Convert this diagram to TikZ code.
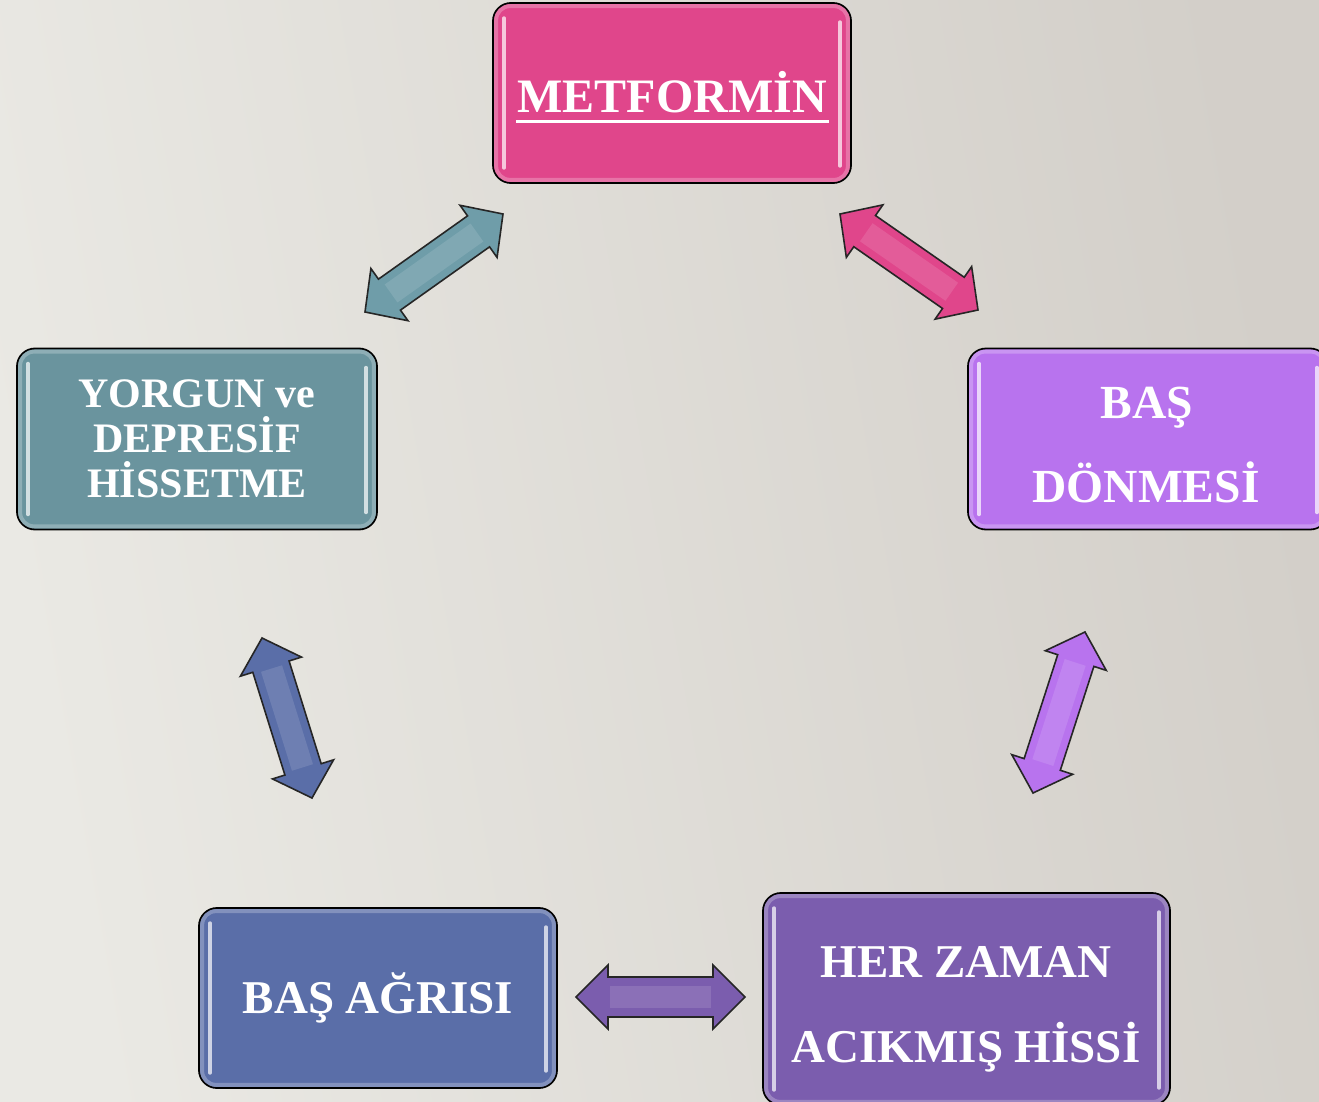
\documentclass[tikz,border=0pt]{standalone}
\usepackage{fontspec}
\setmainfont{Liberation Serif}
\usetikzlibrary{calc}
\definecolor{bgL}{HTML}{EAE9E4}
\definecolor{bgR}{HTML}{D3CFC9}
\definecolor{cPink}{HTML}{E0468B}
\definecolor{cTeal}{HTML}{6A949E}
\definecolor{cLilac}{HTML}{B873EE}
\definecolor{cBlue}{HTML}{5A6EA8}
\definecolor{cPurple}{HTML}{7B5DAE}
\definecolor{aTeal}{HTML}{6F9DA9}
\tikzset{
  box/.style={draw=black, line width=1.8pt, rounded corners=18pt, inner sep=0pt},
  lbl/.style={text=white, anchor=base, inner sep=0pt},
  arr/.style={draw=black!85, line width=1.6pt, line join=miter}
}
\newcommand\glossbox[6]{%
  \node[box, fill=#6, minimum width=#4pt, minimum height=#5pt] (#1) at (#2,#3) {};
  \draw[#6!55!white, line width=4pt, rounded corners=14pt, opacity=0.55]
    ($(#1.north west)+(4,4)$) rectangle ($(#1.south east)+(-4,-4)$);
  \draw[white!70!#6, line width=3.6pt, line cap=round]
    ($(#1.north west)+(12,16)$) -- ($(#1.south west)+(12,-16)$);
  \draw[white!70!#6, line width=3.6pt, line cap=round]
    ($(#1.north east)+(-12,20)$) -- ($(#1.south east)+(-12,-18)$);
}
% #1,#2 tips, #3 colour, #4 shaft half width, #5 head half width, #6 head length
\newcommand\dblarr[6]{%
  \coordinate (hA) at ($(#1)!#6pt!(#2)$);
  \coordinate (hB) at ($(#2)!#6pt!(#1)$);
  \draw[arr, fill=#3] (#1) -- ($(hA)!#5pt!90:(#2)$) -- ($(hA)!#4pt!90:(#2)$)
    -- ($(hB)!#4pt!-90:(#1)$) -- ($(hB)!#5pt!-90:(#1)$) -- (#2)
    -- ($(hB)!#5pt!90:(#1)$) -- ($(hB)!#4pt!90:(#1)$)
    -- ($(hA)!#4pt!-90:(#2)$) -- ($(hA)!#5pt!-90:(#2)$) -- cycle;
  \draw[white!35!#3, line width=22pt, opacity=0.35]
    ($(hA)!2pt!(hB)$) -- ($(hB)!2pt!(hA)$);
}
\begin{document}
\begin{tikzpicture}[x=1pt,y=-1pt]
\useasboundingbox (0,0) rectangle (1319,1102);
\shade[left color=bgL, right color=bgR, shading angle=100] (0,0) rectangle (1319,1102);
\clip (0,0) rectangle (1319,1102);

% boxes
\glossbox{met}{672}{93}{358}{180}{cPink}
\glossbox{yor}{197}{439}{360}{181}{cTeal}
\glossbox{bd}{1148}{439}{360}{181}{cLilac}
\glossbox{ba}{378}{998}{358}{180}{cBlue}
\glossbox{hz}{966.5}{999}{407}{212}{cPurple}

% texts
\begin{scope}[every node/.append style={lbl}]
\node[font=\bfseries\fontsize{48}{48}\selectfont] (tmet) at (672,113) {METFORMİN};
\node[font=\bfseries\fontsize{42}{42}\selectfont] (ty1) at (197,407) {YORGUN ve};
\node[font=\bfseries\fontsize{42}{42}\selectfont] (ty2) at (197,452) {DEPRESİF};
\node[font=\bfseries\fontsize{42}{42}\selectfont] (ty3) at (197,497) {HİSSETME};
\node[font=\bfseries\fontsize{47.5}{48}\selectfont] (tb1) at (1147,418) {BAŞ};
\node[font=\bfseries\fontsize{47.5}{48}\selectfont] (tb2) at (1146,502) {DÖNMESİ};
\node[font=\bfseries\fontsize{47}{48}\selectfont] (ta) at (378,1013) {BAŞ AĞRISI};
\node[font=\bfseries\fontsize{47}{48}\selectfont] (th1) at (966,977) {HER ZAMAN};
\node[font=\bfseries\fontsize{47}{48}\selectfont] (th2) at (966,1062) {ACIKMIŞ HİSSİ};
\end{scope}
\draw[white, line width=3pt] (tmet.base west)++(-1,9) -- ($(tmet.base east)+(2,9)$);

% arrows
\coordinate (a1) at (365,312); \coordinate (b1) at (503,214);
\coordinate (a2) at (840,214); \coordinate (b2) at (978,310);
\coordinate (a3) at (1085,632); \coordinate (b3) at (1033,793);
\coordinate (a4) at (262,638); \coordinate (b4) at (312,798);
\coordinate (a5) at (576,997); \coordinate (b5) at (745,997);
\dblarr{a1}{b1}{aTeal}{19}{32}{30}
\dblarr{a2}{b2}{cPink}{19}{32}{30}
\dblarr{a3}{b3}{cLilac}{19}{32}{30}
\dblarr{a4}{b4}{cBlue}{19}{32}{30}
\dblarr{a5}{b5}{cPurple}{20}{32}{32}
\end{tikzpicture}
\end{document}
